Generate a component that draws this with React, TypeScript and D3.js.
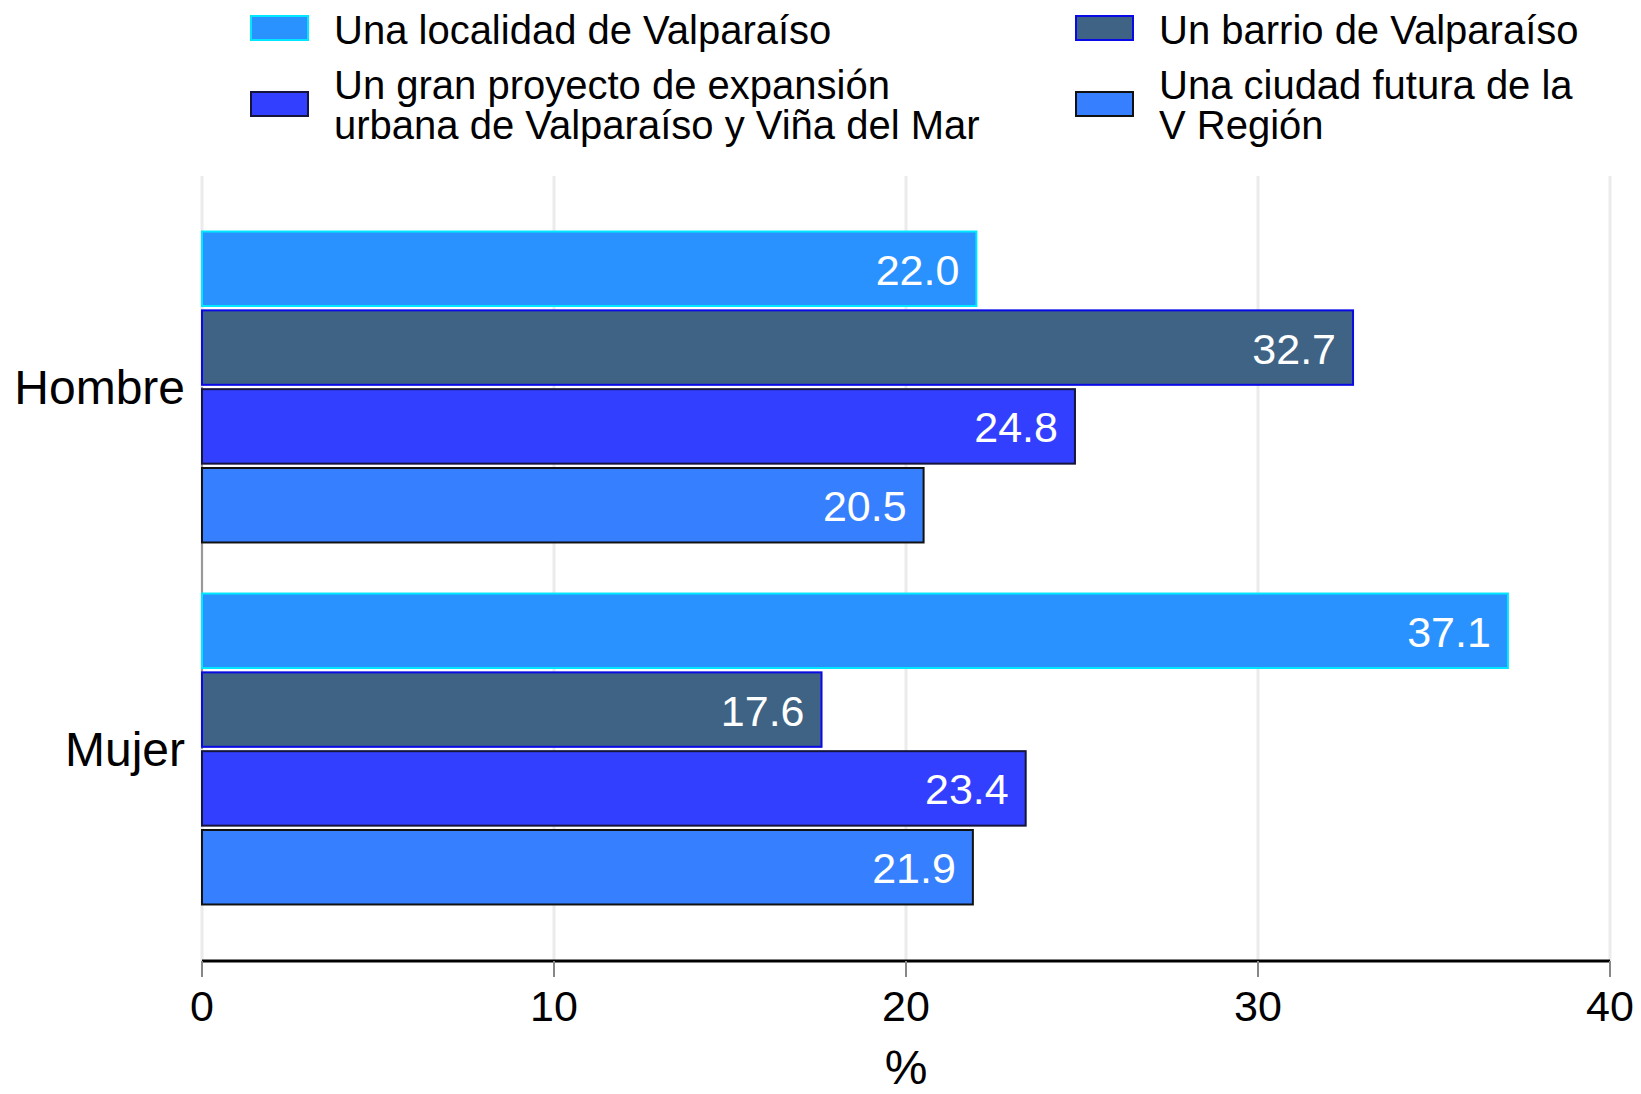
import React from "react";
import * as d3 from "d3";

const groups = ["Hombre", "Mujer"];
const seriesNames = [
  "Una localidad de Valparaíso",
  "Un barrio de Valparaíso",
  "Un gran proyecto de expansión urbana de Valparaíso y Viña del Mar",
  "Una ciudad futura de la V Región",
];
const legendLines = [
  ["Una localidad de Valparaíso"],
  ["Un barrio de Valparaíso"],
  ["Un gran proyecto de expansión", "urbana de Valparaíso y Viña del Mar"],
  ["Una ciudad futura de la", "V Región"],
];
const hombreValues = [22.0, 32.7, 24.8, 20.5];
const mujerValues = [37.1, 17.6, 23.4, 21.9];
const xTicks = [0, 10, 20, 30, 40];
const fills = ["#2A92FF", "#3E6384", "#333FFF", "#3680FF"];
const strokes = ["#00E8FF", "#0A0AE6", "#14143C", "#111111"];

const W = 1641;
const H = 1094;
const FONT = "'Liberation Sans', Arial, Helvetica, sans-serif";

export default function App() {
  const x = d3.scaleLinear().domain([0, 40]).range([202, 1610]);
  const yGroup = d3.scaleBand().domain(groups).range([206, 930]).paddingInner(0.141).paddingOuter(0.0705);
  const ySeries = d3.scaleBand().domain(d3.range(4).map(String)).range([0, yGroup.bandwidth()]).paddingInner(0.055);
  const values = [hombreValues, mujerValues];
  const axisY = 961;
  const gridTop = 176;

  const legendPos = [
    { sx: 251, sy: 16, tx: 334, ty: 44 },
    { sx: 1076, sy: 16, tx: 1159, ty: 44 },
    { sx: 251, sy: 92, tx: 334, ty: 99 },
    { sx: 1076, sy: 92, tx: 1159, ty: 99 },
  ];

  const groupCenter = (g: string) => (yGroup(g) as number) + yGroup.bandwidth() / 2;

  return (
    <svg width={W} height={H} style={{ position: "absolute", left: 0, top: 0, background: "#fff" }} fontFamily={FONT}>
      <rect x={0} y={0} width={W} height={H} fill="#fff" />
      {seriesNames.map((s, i) => (
        <g key={s}>
          <rect x={legendPos[i].sx} y={legendPos[i].sy} width={57} height={24} fill={fills[i]} stroke={strokes[i]} strokeWidth={2} />
          {legendLines[i].map((ln, j) => (
            <text key={j} x={legendPos[i].tx} y={legendPos[i].ty + j * 40} fontSize={40} fill="#000">
              {ln}
            </text>
          ))}
        </g>
      ))}
      {xTicks.map((t) => (
        <line key={t} x1={x(t)} x2={x(t)} y1={gridTop} y2={axisY} stroke="#EBEBEB" strokeWidth={3} />
      ))}
      <line x1={x(0)} x2={x(0)} y1={groupCenter("Hombre")} y2={groupCenter("Mujer")} stroke="#999" strokeWidth={2} />
      {groups.map((g, gi) =>
        values[gi].map((v, si) => {
          const y0 = (yGroup(g) as number) + (ySeries(String(si)) as number);
          const bh = ySeries.bandwidth();
          return (
            <g key={g + si}>
              <rect x={x(0)} y={y0} width={x(v) - x(0)} height={bh} fill={fills[si]} stroke={strokes[si]} strokeWidth={2} />
              <text x={x(v) - 17} y={y0 + bh / 2 + 16} textAnchor="end" fontSize={43} fill="#fff">
                {v.toFixed(1)}
              </text>
            </g>
          );
        })
      )}
      {groups.map((g) => (
        <text key={g} x={185} y={groupCenter(g) + 17} textAnchor="end" fontSize={48} fill="#000">
          {g}
        </text>
      ))}
      <line x1={x(0)} x2={x(40)} y1={axisY} y2={axisY} stroke="#000" strokeWidth={3} />
      {xTicks.map((t) => (
        <g key={"t" + t}>
          <line x1={x(t)} x2={x(t)} y1={axisY} y2={axisY + 16} stroke="#888" strokeWidth={2} />
          <text x={x(t)} y={1021} textAnchor="middle" fontSize={43} fill="#000">
            {t}
          </text>
        </g>
      ))}
      <text x={x(20)} y={1084} textAnchor="middle" fontSize={48} fill="#000">
        %
      </text>
    </svg>
  );
}
